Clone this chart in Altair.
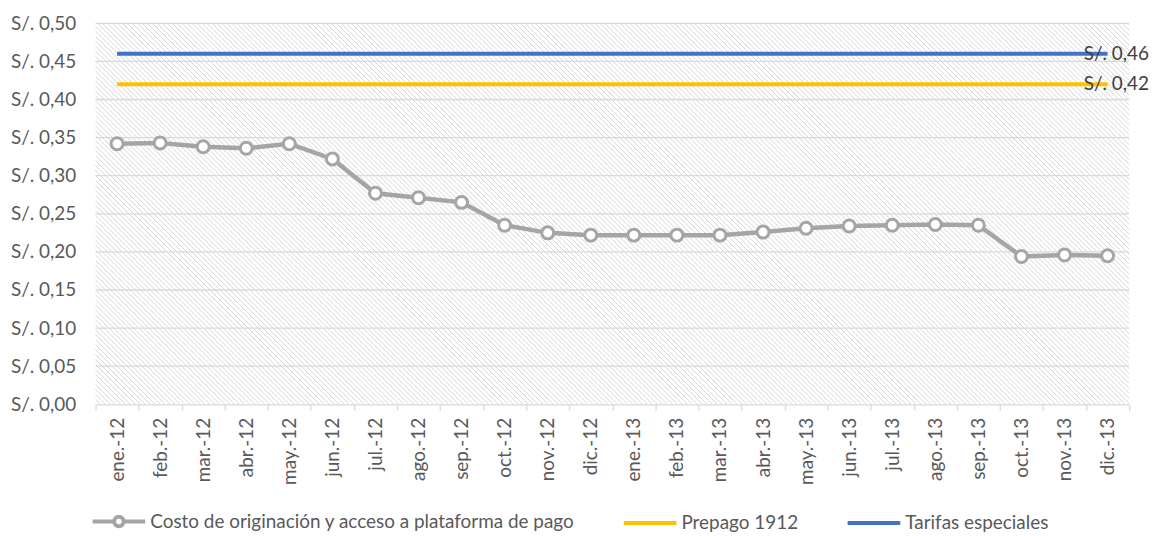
import altair as alt
import pandas as pd

# ---- data ----
meses = ["ene.-12", "feb.-12", "mar.-12", "abr.-12", "may.-12", "jun.-12",
         "jul.-12", "ago.-12", "sep.-12", "oct.-12", "nov.-12", "dic.-12",
         "ene.-13", "feb.-13", "mar.-13", "abr.-13", "may.-13", "jun.-13",
         "jul.-13", "ago.-13", "sep.-13", "oct.-13", "nov.-13", "dic.-13"]
costo = [0.342, 0.343, 0.338, 0.336, 0.342, 0.322, 0.277, 0.271, 0.265, 0.235,
         0.225, 0.222, 0.222, 0.222, 0.222, 0.226, 0.231, 0.234, 0.235, 0.236,
         0.235, 0.194, 0.196, 0.195]
prepago = 0.42
tarifas = 0.46
series = ["Costo de originación y acceso a plataforma de pago",
          "Prepago 1912", "Tarifas especiales"]
y_ticks = [0.0, 0.05, 0.10, 0.15, 0.20, 0.25, 0.30, 0.35, 0.40, 0.45, 0.50]

# ---- styles ----
GRAY, YELLOW, BLUE = "#a5a5a5", "#ffc000", "#4472c4"
TXT = "#595959"
FONT = "Lato"
FS = 19
W, H = 1039, 383
HATCH_STEP = 5

rows = []
for m, c in zip(meses, costo):
    rows.append({"mes": m, "serie": series[0], "valor": c})
    rows.append({"mes": m, "serie": series[1], "valor": prepago})
    rows.append({"mes": m, "serie": series[2], "valor": tarifas})
df = pd.DataFrame(rows)

label_expr = "'S/. ' + replace(format(datum.value, '.2f'), '.', ',')"

x_enc = alt.X("mes:N", sort=meses, title=None,
              scale=alt.Scale(type="band", paddingInner=0, paddingOuter=0),
              axis=alt.Axis(labelAngle=270, tickBand="extent", tickSize=6,
                            labelPadding=7, labelAlign="right",
                            labelBaseline="middle", grid=False, domain=True))
y_scale = alt.Scale(domain=[0, 0.5], nice=False, zero=True)
y_axis = alt.Axis(values=y_ticks, labelExpr=label_expr, ticks=False,
                  domain=False, labelPadding=20, grid=False)
y_enc = alt.Y("valor:Q", title=None, scale=y_scale, axis=y_axis)

base = alt.Chart(df)

# diagonal hatch texture of the plot area (decoration, generated by Vega)
fondo = alt.Chart(
    alt.sequence(start=0, stop=int((W + H) / HATCH_STEP) + 2, as_="k")
).transform_calculate(
    hx1=f"datum.k * {HATCH_STEP} - {H}", hx2=f"datum.k * {HATCH_STEP}"
).mark_rule(color="#d6d6d6", strokeWidth=1, clip=True).encode(
    x=alt.X("hx1:Q", scale=None, axis=None), x2="hx2:Q",
    y=alt.value(0), y2=alt.value("height"))

grid = alt.Chart(pd.DataFrame({"v": y_ticks[1:]})).mark_rule(
    color="#d9d9d9", strokeWidth=1.3).encode(
    y=alt.Y("v:Q", title=None, scale=y_scale, axis=y_axis))

gray_line = base.transform_filter(alt.datum.serie == series[0]).mark_line(
    color=GRAY, strokeWidth=4.5).encode(x=x_enc, y=y_enc)
gray_pts = base.transform_filter(alt.datum.serie == series[0]).mark_point(
    filled=True, fill="white", stroke=GRAY, strokeWidth=3, size=145,
    opacity=1).encode(x=x_enc, y=y_enc)
yellow_line = base.transform_filter(alt.datum.serie == series[1]).mark_line(
    color=YELLOW, strokeWidth=4).encode(x=x_enc, y=y_enc)
blue_line = base.transform_filter(alt.datum.serie == series[2]).mark_line(
    color=BLUE, strokeWidth=4).encode(x=x_enc, y=y_enc)

labels = base.transform_filter(
    (alt.datum.mes == meses[-1]) & (alt.datum.serie != series[0])
).transform_calculate(
    etiqueta="'S/. ' + replace(format(datum.valor, '.2f'), '.', ',')"
).mark_text(align="left", baseline="middle", dx=-24, font=FONT, fontSize=FS,
            color="#404040").encode(x=x_enc, y=y_enc, text="etiqueta:N")

sym_gray = ("M-1,0L-0.2,0M0.2,0L1,0M0.18,0A0.18,0.18,0,1,1,-0.18,0"
            "A0.18,0.18,0,1,1,0.18,0Z")
sym_line = "M-1,0L1,0"
leg = alt.Legend(title=None, orient="none", legendX=-5, legendY=472,
                 direction="horizontal",
                 symbolSize=2800, symbolStrokeWidth=4, symbolFillColor="white",
                 labelFont=FONT, labelFontSize=FS, labelColor=TXT,
                 labelLimit=1000, labelOffset=3, columnPadding=41,
                 symbolOpacity=1)
legend_layer = base.transform_filter("false").mark_point(
    filled=True, fill="white", strokeWidth=4).encode(
    x=x_enc, y=y_enc,
    stroke=alt.Stroke("serie:N", scale=alt.Scale(domain=series,
                      range=[GRAY, YELLOW, BLUE]), legend=leg),
    shape=alt.Shape("serie:N", scale=alt.Scale(domain=series,
                    range=[sym_gray, sym_line, sym_line]), legend=leg))

chart = alt.layer(fondo, grid, gray_line, gray_pts, yellow_line, blue_line,
                  labels, legend_layer).properties(
    width=W, height=H,
    padding={"left": 88, "top": 14, "right": 20, "bottom": 131},
    autosize=alt.AutoSizeParams(type="none"),
).configure_view(stroke=None).configure_axis(
    labelFont=FONT, labelFontSize=FS, labelColor=TXT,
    domainColor="#d9d9d9", tickColor="#d9d9d9",
    domainWidth=1.3, tickWidth=1.3,
)

chart.save("out.html", embed_options={"renderer": "svg", "actions": False})
